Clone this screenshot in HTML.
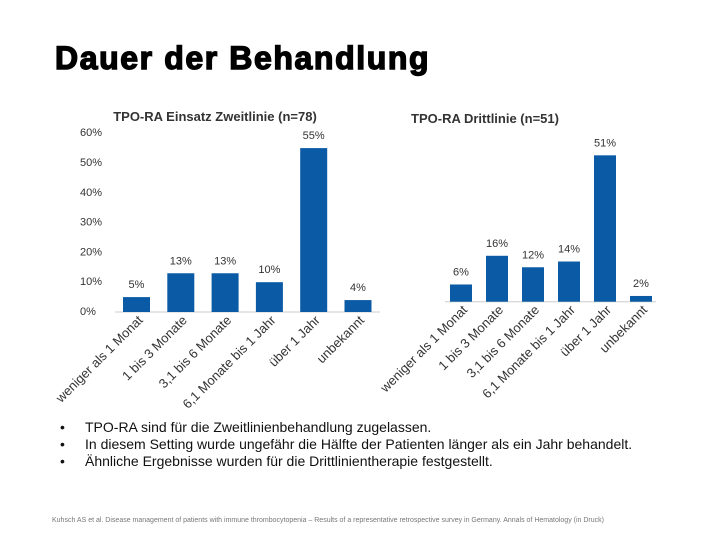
<!DOCTYPE html>
<html><head><meta charset="utf-8"><style>
body{margin:0;width:720px;height:540px;background:#fff;overflow:hidden;font-family:"Liberation Sans",sans-serif;}
</style></head><body>
<svg width="720" height="540" xmlns="http://www.w3.org/2000/svg" style="position:absolute;left:0;top:0" font-family="Liberation Sans, sans-serif">
<text x="55" y="69" font-size="32" font-weight="bold" letter-spacing="1.6" fill="#000" stroke="#000" stroke-width="1.4">Dauer der Behandlung</text>
<text x="215" y="121" font-size="13" font-weight="bold" fill="#333" text-anchor="middle">TPO-RA Einsatz Zweitlinie (n=78)</text>
<text x="485" y="123" font-size="13" font-weight="bold" fill="#333" text-anchor="middle">TPO-RA Drittlinie (n=51)</text>
<g id="chart"></g>
<g font-size="14" fill="#111">
<text x="60" y="432">•</text><text x="85" y="432">TPO-RA sind für die Zweitlinienbehandlung zugelassen.</text>
<text x="60" y="449">•</text><text x="85" y="449">In diesem Setting wurde ungefähr die Hälfte der Patienten länger als ein Jahr behandelt.</text>
<text x="60" y="466">•</text><text x="85" y="466">Ähnliche Ergebnisse wurden für die Drittlinientherapie festgestellt.</text>
</g>
<text x="52" y="522" font-size="7" fill="#777">Kuhsch AS et al. Disease management of patients with immune thrombocytopenia – Results of a representative retrospective survey in Germany. Annals of Hematology (in Druck)</text>
</svg>
<script>
const categories=["weniger als 1 Monat","1 bis 3 Monate","3,1 bis 6 Monate","6,1 Monate bis 1 Jahr","über 1 Jahr","unbekannt"];
const leftValues=[5,13,13,10,55,4];
const rightValues=[6,16,12,14,51,2];
const yTicks=[0,10,20,30,40,50,60];
const NS="http://www.w3.org/2000/svg";
const g=document.getElementById('chart');
function mk(t,a,txt){const e=document.createElementNS(NS,t);for(const k in a)e.setAttribute(k,a[k]);if(txt!==undefined)e.textContent=txt;g.appendChild(e);return e;}
const yL=v=>312-v*2.98;
const yR=v=>301.7-v*2.87;
const xL=i=>123+i*44.3;
const xR=i=>450+i*36;
yTicks.forEach(t=>{const e=mk('text',{x:80,y:yL(t)+3,'font-size':11,fill:'#333'},t+'%');

});
let l=mk('line',{x1:115,x2:380,y1:312,y2:312,stroke:'#ccc'});


l=mk('line',{x1:445,x2:656,y1:301.7,y2:301.7,stroke:'#ccc'});


function drawSet(vals,xf,yf,base,w,prefix){
vals.forEach((v,i)=>{
const x=xf(i);
const r=mk('rect',{x:x,y:yf(v),width:w,height:base-yf(v),fill:'#0a5aa5'});


const t=mk('text',{x:x+w/2,y:yf(v)-9,'font-size':11,fill:'#333','text-anchor':'middle'},v+'%');


const cx=x+w/2+7,cy=base+9;
const c=mk('text',{x:cx,y:cy,'font-size':13,fill:'#333','text-anchor':'end',transform:'rotate(-45 '+cx+' '+cy+')'},categories[i]);


});}
drawSet(leftValues,xL,yL,312,27,'left');
drawSet(rightValues,xR,yR,301.7,22,'right');
</script>
</body></html>
